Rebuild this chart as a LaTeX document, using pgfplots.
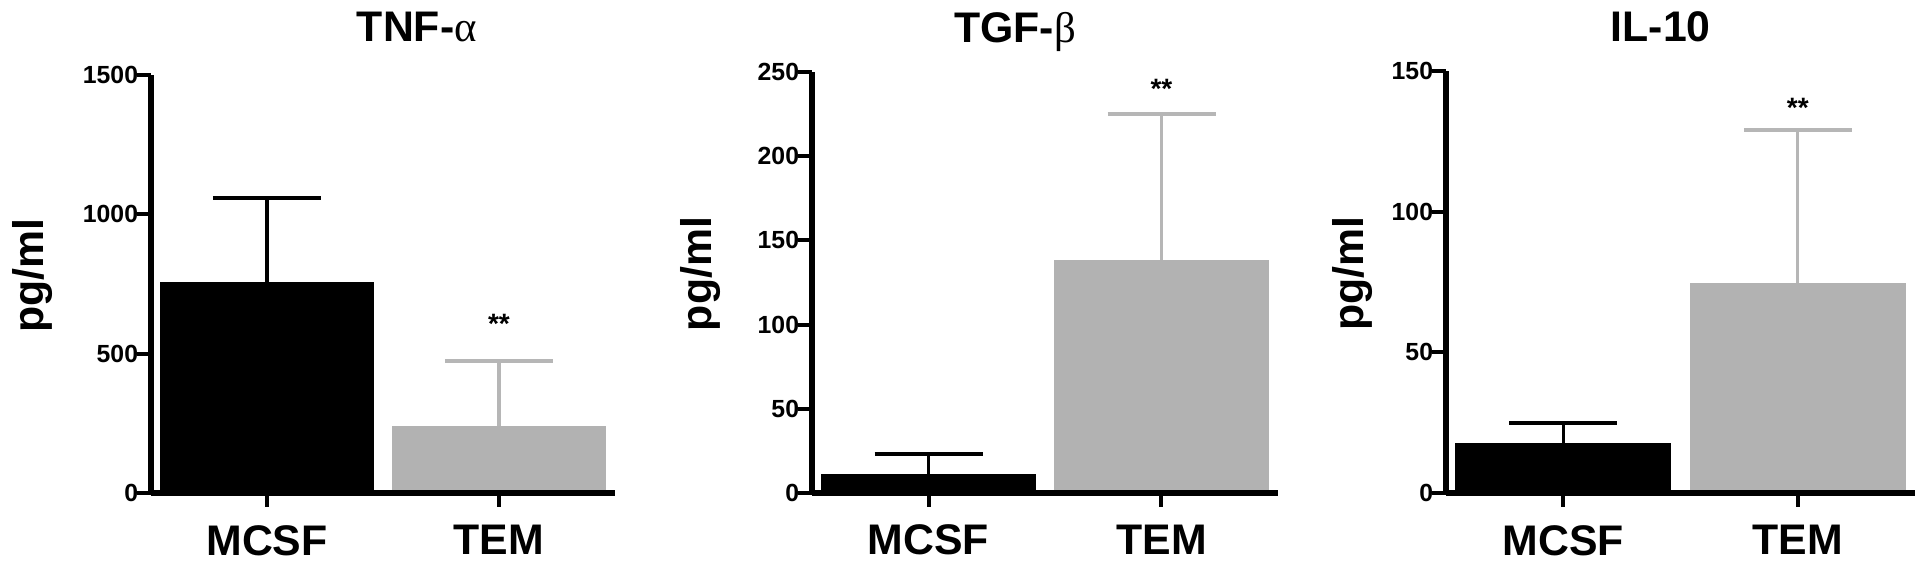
\documentclass[border=0pt]{standalone}
\usepackage{fontspec}
\setmainfont{Liberation Sans}
\newfontfamily\grk{Liberation Serif}
\usepackage{pgfplots}
\pgfplotsset{compat=1.18}
\definecolor{barg}{HTML}{B2B2B2}
\definecolor{errg}{HTML}{B6B6B6}
\newcommand{\labfont}{\fontsize{10.7}{12}\selectfont\bfseries}
\newcommand{\tickfont}{\fontsize{6.2}{7}\selectfont\bfseries}
\newcommand{\starfont}{\fontsize{7}{8}\selectfont\bfseries}
\pgfplotsset{
  every axis title shift=0pt,
  panel/.style={
    scale only axis,
    anchor=south west,
    xmin=-0.5, xmax=1.5, ymin=0,
    axis x line=bottom, axis y line=left,
    axis line style={-, line width=1.4pt, black},
    axis on top,
    clip=false,
    xtick={0,1}, xticklabels={MCSF,TEM},
    tick align=outside,
    major tick length=3.5pt,
    tick style={line width=1pt, black},
    xticklabel style={font=\labfont, yshift=-1pt},
    yticklabel style={font=\tickfont, xshift=3.8pt, /pgf/number format/assume math mode=true},
    /pgf/number format/1000 sep={},
    ylabel={pg/ml},
    ylabel style={font=\labfont, anchor=center},
    title style={font=\labfont, anchor=base},
  },
  blackbar/.style={ybar, bar shift=0pt, bar width=0.92, fill=black, draw=none,
    error bars/.cd, y dir=plus, y explicit,
    error bar style={line width=0.8pt, black},
    error mark options={rotate=90, mark size=13.5pt, line width=1pt, black}},
  graybar/.style={ybar, bar shift=0pt, bar width=0.92, fill=barg, draw=none,
    error bars/.cd, y dir=plus, y explicit,
    error bar style={line width=0.8pt, errg},
    error mark options={rotate=90, mark size=13.5pt, line width=1pt, errg}},
}
\begin{document}
\begin{tikzpicture}
\path[use as bounding box] (0,0) rectangle (480pt,143.75pt);
% Panel 1
\begin{axis}[panel, at={(37.75pt,20.5pt)}, width=116pt, height=104.5pt,
  ymax=1500, ytick={0,500,1000,1500},
  ylabel style={at={(axis description cs:-0.256,0.52)}},
  title={TNF-{\grk\mdseries α}}, title style={at={(axis description cs:0.573,1.079)}}]
\addplot[blackbar] coordinates {(0,757) +- (0,300)};
\addplot[graybar] coordinates {(1,240) +- (0,235)};
\node[font=\starfont] at (axis cs:1,607) {**};
\end{axis}
% Panel 2
\begin{axis}[panel, at={(203pt,20.5pt)}, width=116.5pt, height=105.25pt,
  ymax=250, ytick={0,50,100,150,200,250},
  ylabel style={at={(axis description cs:-0.24,0.52)}},
  title={TGF-{\grk\mdseries β}}, title style={at={(axis description cs:0.436,1.071)}}]
\addplot[blackbar] coordinates {(0,11.5) +- (0,11.4)};
\addplot[graybar] coordinates {(1,138.3) +- (0,86.5)};
\node[font=\starfont] at (axis cs:1,240) {**};
\end{axis}
% Panel 3
\begin{axis}[panel, at={(361.5pt,20.5pt)}, width=117.25pt, height=105.5pt,
  ymax=150, ytick={0,50,100,150},
  ylabel style={at={(axis description cs:-0.20,0.52)}},
  title={IL-10}, title style={at={(axis description cs:0.458,1.069)}}]
\addplot[blackbar] coordinates {(0,17.6) +- (0,7.2)};
\addplot[graybar] coordinates {(1,74.6) +- (0,54.5)};
\node[font=\starfont] at (axis cs:1,137) {**};
\end{axis}
\end{tikzpicture}
\end{document}
